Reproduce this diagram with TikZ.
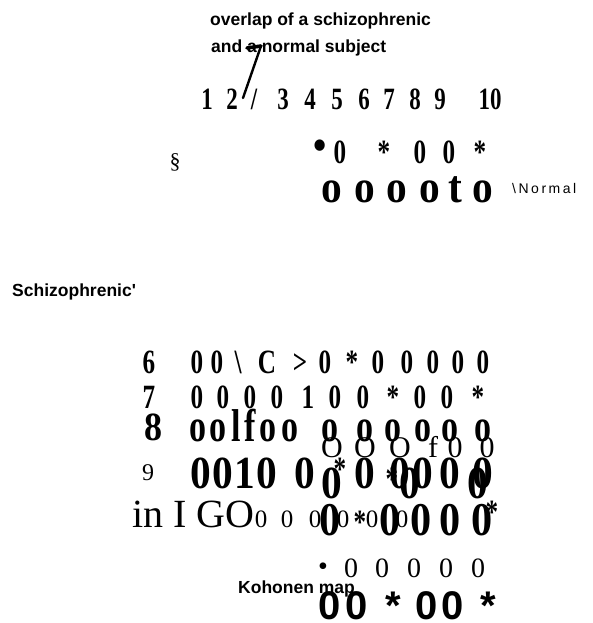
\documentclass[tikz,border=0pt]{standalone}
\usepackage{fontspec}
\setmainfont{Liberation Serif}
\setsansfont{Liberation Sans}
\newfontfamily\condserif[FakeStretch=0.74]{Liberation Serif}
\newfontfamily\semiserif[FakeStretch=0.9]{Liberation Serif}
\usepackage{tikz}
\usetikzlibrary{positioning}

\tikzset{
  glyph/.style={anchor=base, inner sep=0pt, outer sep=0pt},
  boldnum/.style={glyph, font={\condserif\bfseries\fontsize{#1}{#1}\selectfont}},
  boldwide/.style={glyph, font={\semiserif\bfseries\fontsize{#1}{#1}\selectfont}},
  plainnum/.style={glyph, font={\rmfamily\fontsize{#1}{#1}\selectfont}},
  sansnum/.style={glyph, font={\sffamily\bfseries\fontsize{#1}{#1}\selectfont}},
  sanslabel/.style={anchor=base west, inner sep=0pt, font=\sffamily\bfseries\fontsize{17.5}{20}\selectfont},
  pointer/.style={line width=2.4pt, line cap=round, line join=miter},
}

\begin{document}
\begin{tikzpicture}[x=1pt, y=-1pt]
  \useasboundingbox (0,0) rectangle (593,623);

  % caption and pointer
  \node[sanslabel] (title1) at (210,26) {overlap of a schizophrenic};
  \node[sanslabel] (title2) at (211,53) {and a normal subject};
  \coordinate (tip) at (247,48);
  \coordinate (bend) at (261,46);
  \coordinate (foot) at (243,98);

  % column numbers
  \foreach \x/\g [count=\i] in {207/1, 232/2, 254/{/}, 283/3, 310/4, 337/5, 364/6, 389/7, 415/8, 440/9, 490/10}
    \node[boldnum=31] (col-\i) at (\x,110) {\g};
  \draw[pointer, line width=3.6pt] (tip) -- (bend);
  \draw[pointer] (bend) -- (foot);

  % normal subject
  \node[plainnum=22] (sect) at (175,168) {\S};
  \node[boldwide=42] (nrm-dot) at (320,159) {\textbullet};
  \foreach \x/\g [count=\i] in {340/0, 384/*, 420/0, 449/0, 480/*}
    \node[boldnum=34] (nrm-\i) at (\x,163) {\g};
  \foreach \x/\g [count=\i] in {332/o, 365/o, 397/o, 430/o, 455/t, 483/o}
    \node[boldwide=46] (nro-\i) at (\x,202) {\g};
  \node[anchor=base west, inner sep=0pt, font=\sffamily\fontsize{14}{14}\selectfont\addfontfeature{LetterSpace=18}] (normal) at (512,193) {\textbackslash Normal};

  % schizophrenic subject
  \node[sanslabel] (schizo) at (12,296) {Schizophrenic\textquotesingle};

  % row 6
  \foreach \x/\g [count=\i] in {149/6, 197/0, 217/0, 238/{\textbackslash}, 267/C, 300/{>}, 325/0, 352/*, 378/0, 407/0, 433/0, 458/0, 483/0}
    \node[boldnum=34] (six-\i) at (\x,373) {\g};
  % row 7
  \foreach \x/\g [count=\i] in {149/7, 197/0, 223/0, 250/0, 277/0, 308/1, 335/0, 363/0, 393/*, 420/0, 447/0, 478/*}
    \node[boldnum=34] (seven-\i) at (\x,408) {\g};
  % row 8
  \node[boldwide=40] (eight) at (153,440) {8};
  \foreach \x/\g [count=\i] in {198/o, 218/o, 236/l, 250/f, 268/o, 290/o, 330/o, 365/o, 393/o, 423/o, 450/o, 483/o}
    \node[boldnum=46] (eight-\i) at (\x,441) {\g};
  \foreach \x/\g [count=\i] in {332/O, 365/O, 400/O, 433/f, 455/0, 487/0}
    \node[plainnum=30] (eightb-\i) at (\x,457) {\g};
  % row 9
  \node[plainnum=24] (nine) at (148,480) {9};
  \foreach \x/\g [count=\i] in {201/0, 223/0, 245/1, 267/0, 305/0, 365/0, 400/0, 423/0, 450/0, 483/0}
    \node[boldwide=46] (nine-\i) at (\x,488) {\g};
  \node[boldwide=46] (nineb-1) at (332,498) {0};
  \node[boldwide=46] (nineb-2) at (410,498) {0};
  \node[boldwide=46] (nineb-3) at (478,498) {0};
  \node[boldnum=34] (nstar-1) at (340,480) {*};
  \node[boldnum=34] (nstar-2) at (392,490) {*};
  % row 10
  \node[anchor=base west, inner sep=0pt, font=\rmfamily\fontsize{40}{40}\selectfont] (ten) at (132,527) {in I GO};
  \foreach \x/\g [count=\i] in {261/0, 287/0, 315/0, 343/0, 372/0, 402/0}
    \node[plainnum=25] (tenb-\i) at (\x,527) {\g};
  \foreach \x/\g [count=\i] in {330/0, 390/0, 421/0, 450/0, 482/0}
    \node[boldwide=47] (ten-\i) at (\x,535) {\g};
  \node[boldnum=34] (tstar-1) at (360,533) {*};
  \node[boldnum=34] (tstar-2) at (492,523) {*};
  % row 11
  \node[plainnum=28] (elv-dot) at (323,575) {\textbullet};
  \foreach \x/\g [count=\i] in {351/0, 382/0, 414/0, 446/0, 478/0}
    \node[plainnum=28] (elv-\i) at (\x,577) {\g};

  % map label and last row
  \node[sanslabel] (kohonen) at (238,593) {Kohonen map};
  \foreach \x/\g [count=\i] in {330/0, 357/0, 393/*, 427/0, 453/0, 488/*}
    \node[sansnum=40] (last-\i) at (\x,619) {\g};
\end{tikzpicture}
\end{document}
